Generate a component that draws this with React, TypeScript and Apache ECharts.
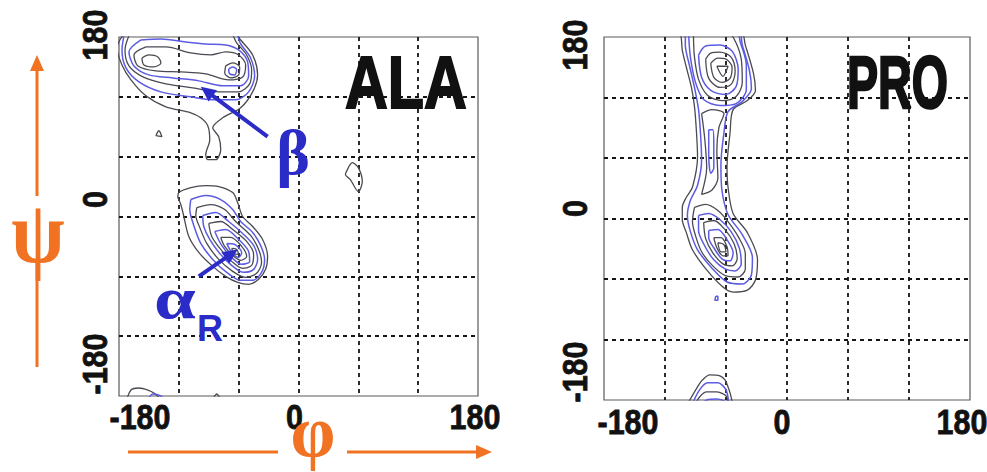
import React, { useEffect, useRef } from "react";
import * as echarts from "echarts";

type Pt = [number, number];

// ---------- tick labels ----------
const TICK_VALUES = [-180, 0, 180];
const TICK_TEXT = ["-180", "0", "180"];
const PANEL_TITLES = ["ALA", "PRO"];
const AXIS_SYMBOLS = ["\u03C8", "\u03C6"]; // psi, phi
const REGION_LABELS = ["\u03B2", "\u03B1", "R"];

// ---------- ALA contours (phi, psi in degrees) ----------
const alaBeta1: Pt[] = [[-173,186],[-182,169],[-177,152],[-168,137],[-153,121],[-133,110],[-108,104],[-98,99],[-91,91],[-89,77],[-93,62],[-91,57],[-83,57],[-78,67],[-80,80],[-86,89],[-76,99],[-58,109],[-46,125],[-41,142],[-46,162],[-58,177],[-66,186]];
const alaBeta2: Pt[] = [[-174,186],[-177,167],[-173,149],[-160,135],[-138,125],[-108,120],[-83,117],[-63,117],[-50,125],[-44,141],[-48,159],[-58,173],[-65,186]];
const alaBeta3: Pt[] = [[-168,186],[-174,167],[-170,151],[-156,140],[-133,133],[-106,129],[-80,125],[-60,125],[-49,133],[-47,147],[-52,162],[-62,174],[-70,186]];
const alaBeta4: Pt[] = [[-158,177],[-170,165],[-165,151],[-150,142],[-126,139],[-100,136],[-76,131],[-58,131],[-50,141],[-51,155],[-60,167],[-73,172],[-93,173],[-113,175],[-138,178]];
const alaBeta5: Pt[] = [[-153,170],[-165,162],[-161,151],[-143,146],[-118,145],[-93,143],[-70,137],[-56,140],[-53,152],[-60,162],[-73,165],[-88,162],[-108,164],[-133,170]];
const alaBeta6a: Pt[] = [[-157,159],[-155,152],[-145,150],[-138,154],[-141,160],[-150,162]];
const alaBeta6b: Pt[] = [[-73,151],[-74,144],[-68,139],[-60,142],[-59,150],[-66,154]];
const alaBeta7: Pt[] = [[-70,148],[-69,143],[-64,142],[-62,147],[-66,150]];
const alaSpeck: Pt[] = [[-143,81],[-140,86],[-137,80]];
const alaIsland: Pt[] = [[49,47],[54,54],[60,49],[64,35],[60,25],[52,37],[47,42]];
const alaEdge1: Pt[] = [[-173,-186],[-168,-174],[-160,-172],[-151,-174],[-145,-177],[-135,-186]];
const alaEdge2: Pt[] = [[-87,-186],[-82,-178],[-77,-186]];
const alaEdge3: Pt[] = [[-152,-186],[-146,-178],[-138,-180],[-132,-186]];

const alaAlpha1: Pt[] = [[-121,19],[-120,24],[-108,29],[-93,31],[-80,30],[-66,24],[-61,14],[-56,0],[-46,-10],[-36,-23],[-31,-40],[-33,-53],[-40,-63],[-50,-68],[-61,-66],[-73,-60],[-86,-50],[-100,-36],[-110,-20],[-115,0],[-118,12]];
const alaAlpha2: Pt[] = [[-108,17],[-93,21],[-78,17],[-66,7],[-58,-5],[-46,-16],[-38,-29],[-34,-43],[-37,-56],[-46,-64],[-58,-64],[-72,-56],[-86,-43],[-98,-27],[-105,-9],[-109,7]];
const alaAlpha3: Pt[] = [[-102,9],[-88,12],[-74,7],[-63,-5],[-48,-19],[-40,-33],[-37,-46],[-42,-57],[-53,-61],[-66,-55],[-80,-43],[-92,-27],[-99,-11],[-103,1]];
const alaAlpha4: Pt[] = [[-96,1],[-83,4],[-70,-5],[-56,-17],[-45,-29],[-41,-43],[-45,-53],[-55,-56],[-67,-49],[-79,-37],[-89,-23],[-95,-10]];
const alaAlpha5: Pt[] = [[-90,-7],[-78,-5],[-66,-13],[-52,-25],[-45,-38],[-47,-49],[-56,-52],[-67,-45],[-78,-33],[-87,-20]];
const alaAlpha6: Pt[] = [[-84,-15],[-73,-13],[-60,-23],[-50,-35],[-49,-45],[-57,-48],[-67,-41],[-77,-29]];
const alaAlpha7: Pt[] = [[-78,-21],[-68,-21],[-57,-30],[-52,-40],[-58,-44],[-66,-39],[-74,-30]];
const alaAlpha8: Pt[] = [[-72,-27],[-64,-28],[-57,-36],[-60,-41],[-67,-36]];
const alaAlpha9: Pt[] = [[-67,-32],[-62,-33],[-60,-38],[-65,-37]];

// ---------- PRO contours ----------
const proOuter1: Pt[] = [[-106,187],[-104,179],[-103,167],[-99,150],[-94,130],[-91,111],[-89,85],[-88,61],[-93,31],[-99,21],[-103,11],[-103,-1],[-99,-14],[-93,-31],[-79,-51],[-63,-68],[-53,-73],[-39,-71],[-31,-61],[-29,-41],[-39,-14],[-53,5],[-58,31],[-59,51],[-56,85],[-53,108],[-39,117],[-31,127],[-33,144],[-41,172],[-46,187]];
const proOuter2: Pt[] = [[-100,187],[-100,172],[-96,152],[-91,130],[-87,108],[-85,83],[-84,58],[-88,33],[-95,18],[-98,3],[-95,-13],[-88,-31],[-74,-49],[-59,-63],[-44,-65],[-35,-56],[-34,-39],[-44,-16],[-58,4],[-64,28],[-65,53],[-62,85],[-58,106],[-44,116],[-35,129],[-37,147],[-44,172],[-48,187]];
const proBeta1: Pt[] = [[-97,187],[-95,160],[-90,135],[-82,118],[-66,112],[-50,114],[-40,128],[-40,152],[-46,175],[-50,187]];
const proBeta2: Pt[] = [[-92,181],[-91,160],[-87,138],[-78,122],[-64,117],[-50,121],[-44,135],[-45,158],[-52,178],[-60,186],[-85,186]];
const proBeta3: Pt[] = [[-87,162],[-84,140],[-75,127],[-60,123],[-50,131],[-48,148],[-54,166],[-66,172],[-80,171]];
const proBeta4: Pt[] = [[-80,158],[-77,139],[-66,130],[-55,133],[-51,146],[-55,160],[-66,165],[-75,164]];
const proBeta5: Pt[] = [[-75,154],[-72,140],[-64,135],[-56,139],[-54,150],[-60,158],[-68,159]];
const proBeta6: Pt[] = [[-69,151],[-58,151],[-63,141]];
const proBridge1: Pt[] = [[-84,104],[-81,80],[-79,50],[-84,24],[-74,28],[-68,40],[-69,68],[-67,90],[-62,104],[-74,108]];
const proBridge2: Pt[] = [[-77,88],[-77,63],[-75,45],[-72,50],[-72,73],[-73,88]];
const proAlpha1: Pt[] = [[-91,11],[-80,14],[-68,8],[-58,-3],[-48,-18],[-41,-35],[-41,-50],[-48,-58],[-60,-57],[-73,-47],[-84,-33],[-90,-17],[-93,-3]];
const proAlpha2: Pt[] = [[-87,3],[-77,5],[-66,-1],[-55,-13],[-47,-29],[-45,-45],[-51,-52],[-61,-50],[-72,-41],[-81,-27],[-87,-12]];
const proAlpha3: Pt[] = [[-82,-4],[-72,-2],[-61,-11],[-52,-25],[-49,-40],[-54,-47],[-63,-45],[-73,-34],[-80,-20]];
const proAlpha4: Pt[] = [[-77,-12],[-68,-11],[-59,-21],[-53,-34],[-56,-42],[-64,-40],[-72,-29],[-77,-19]];
const proAlpha5: Pt[] = [[-72,-19],[-65,-19],[-59,-28],[-58,-37],[-63,-37],[-69,-29]];
const proAlpha6: Pt[] = [[-68,-24],[-62,-26],[-60,-33],[-65,-33]];
const proSpeck: Pt[] = [[-70,-77],[-68,-77],[-68,-81],[-71,-81]];
const proEdge1: Pt[] = [[-99,-186],[-88,-167],[-83,-160],[-76,-155],[-66,-156],[-61,-160],[-58,-167],[-56,-173],[-53,-186]];
const proEdge2: Pt[] = [[-94,-186],[-86,-170],[-78,-163],[-68,-163],[-60,-170],[-57,-186]];
const proEdge3: Pt[] = [[-91,-186],[-86,-177],[-79,-172],[-69,-172],[-59,-177],[-58,-186]];
const proEdge4: Pt[] = [[-86,-186],[-79,-180],[-69,-179],[-60,-182],[-59,-186]];

// annotation anchors (data coords on ALA panel)
const BETA_ARROW: Pt[] = [[-31, 80], [-98, 130]];
const ALPHA_ARROW: Pt[] = [[-100, -60], [-61, -33]];

const ALA_GRAY = [alaBeta1, alaBeta3, alaBeta5, alaBeta6a, alaBeta6b, alaSpeck, alaIsland, alaEdge1, alaEdge2,
  alaAlpha1, alaAlpha3, alaAlpha5, alaAlpha7, alaAlpha9];
const ALA_BLUE = [alaBeta2, alaBeta4, alaBeta7, alaEdge3, alaAlpha2, alaAlpha4, alaAlpha6, alaAlpha8];
const PRO_GRAY = [proOuter1, proBeta2, proBeta4, proBeta5, proBeta6, proBridge1, proAlpha1, proAlpha3, proAlpha5, proAlpha6, proEdge1, proEdge3];
const PRO_BLUE = [proOuter2, proBeta1, proBeta3, proBridge2, proAlpha2, proAlpha4, proSpeck, proEdge2, proEdge4];

// ---------- styling / layout ----------
const GRAY = "#4a4a52";
const BLUE = "#5c5ce2";
const LABEL_BLUE = "#2b2bc8";
const ORANGE = "#f07222";
const SANS = "'Liberation Sans', Arial, sans-serif";
const SERIF = "'Liberation Serif', 'DejaVu Serif', serif";

const GRIDS = [
  { left: 119, top: 37, width: 359, height: 359 },
  { left: 604, top: 37, width: 366, height: 363 },
];
// tick label placement: offsets (px) from the tick position, per tick value order
const X_LABEL_DY = [21, 22];
const X_LABEL_DX = [[21, -4, -3], [24, -5, -8]];
const Y_LABEL_DX = [-24, -29];
const Y_LABEL_DY = [[-32, -17, -2], [-28, -10, 8]];

function closed(p: Pt[]): Pt[] { return [...p, p[0]]; }

function contourSeries(list: Pt[][], g: number, color: string, width: number) {
  return list.map((pts) => ({
    type: "line",
    xAxisIndex: g,
    yAxisIndex: g,
    data: closed(pts),
    symbol: "none",
    showSymbol: false,
    smooth: 0.3,
    clip: true,
    silent: true,
    lineStyle: { color, width },
    z: 3,
  }));
}

function makeAxis(g: number) {
  return {
    type: "value",
    gridIndex: g,
    min: -180,
    max: 180,
    interval: 60,
    axisLine: { show: false },
    axisTick: { show: false },
    axisLabel: { show: false },
    splitLine: {
      show: true,
      showMinLine: false,
      showMaxLine: false,
      lineStyle: { color: "#151515", width: 1.8, type: [4, 4] },
    },
  };
}

function arrowEls(p0: number[], p1: number[], color: string, lw: number, headL: number, headW: number) {
  const dx = p1[0] - p0[0], dy = p1[1] - p0[1];
  const L = Math.hypot(dx, dy);
  const ux = dx / L, uy = dy / L;
  const bx = p1[0] - ux * headL, by = p1[1] - uy * headL;
  const nx = -uy, ny = ux;
  return [
    { type: "line", shape: { x1: p0[0], y1: p0[1], x2: bx + ux * 2, y2: by + uy * 2 }, style: { stroke: color, lineWidth: lw }, z: 100 },
    { type: "polygon", shape: { points: [[p1[0], p1[1]], [bx + nx * headW, by + ny * headW], [bx - nx * headW, by - ny * headW]] }, style: { fill: color }, z: 100 },
  ];
}

function textEl(text: string, x: number, y: number, fontSize: number, fontFamily: string, fill: string,
  scaleX = 1, align = "center", rotation = 0, strokeW = 0) {
  return {
    type: "text",
    x, y, scaleX, rotation,
    z: 100,
    style: {
      text, fontSize, fontFamily, fontWeight: "bold", fill,
      stroke: strokeW > 0 ? fill : undefined,
      lineWidth: strokeW,
      align, verticalAlign: "middle", textAlign: align, textVerticalAlign: "middle",
    },
  };
}

export default function App() {
  const ref = useRef<HTMLDivElement>(null);
  useEffect(() => {
    if (!ref.current) return;
    const chart = echarts.init(ref.current, undefined, { renderer: "svg" });
    const option: any = {
      animation: false,
      backgroundColor: "#ffffff",
      grid: GRIDS.map((g) => ({ ...g, show: true, borderColor: "#5a5a5a", borderWidth: 1.2, backgroundColor: "#fff" })),
      xAxis: [makeAxis(0), makeAxis(1)],
      yAxis: [makeAxis(0), makeAxis(1)],
      series: [
        ...contourSeries(ALA_GRAY, 0, GRAY, 1.3),
        ...contourSeries(ALA_BLUE, 0, BLUE, 1.5),
        ...contourSeries(PRO_GRAY, 1, GRAY, 1.3),
        ...contourSeries(PRO_BLUE, 1, BLUE, 1.5),
      ],
    };
    chart.setOption(option);

    const px = (g: number, p: Pt) => chart.convertToPixel({ gridIndex: g }, p) as number[];
    const tickLabels: any[] = [];
    [0, 1].forEach((g) => {
      TICK_VALUES.forEach((v, i) => {
        const bx = px(g, [v, -180]);
        tickLabels.push(textEl(TICK_TEXT[i], bx[0] + X_LABEL_DX[g][i], bx[1] + X_LABEL_DY[g], 35, SANS, "#111", 0.87, "center", 0, 0.8));
        const by = px(g, [-180, v]);
        tickLabels.push(textEl(TICK_TEXT[i], by[0] + Y_LABEL_DX[g], by[1] + Y_LABEL_DY[g][i], 35, SANS, "#111", 0.87, "center", Math.PI / 2, 0.8));
      });
    });

    const graphic: any[] = [
      ...tickLabels,
      ...arrowEls(px(0, BETA_ARROW[0]), px(0, BETA_ARROW[1]), LABEL_BLUE, 4, 15, 7),
      ...arrowEls(px(0, ALPHA_ARROW[0]), px(0, ALPHA_ARROW[1]), LABEL_BLUE, 4, 15, 7),
      textEl(REGION_LABELS[0], 293, 152, 64, SERIF, LABEL_BLUE),
      textEl(REGION_LABELS[1], 175, 298, 60, SERIF, LABEL_BLUE, 1.25),
      textEl(REGION_LABELS[2], 210, 328, 36, SANS, LABEL_BLUE),
      textEl(PANEL_TITLES[0], 345, 82, 74, SANS, "#111", 0.8, "left", 0, 2),
      textEl(PANEL_TITLES[1], 847, 82, 74, SANS, "#111", 0.63, "left", 0, 2.5),
      // psi axis arrow
      { type: "line", shape: { x1: 37, y1: 367, x2: 37, y2: 262 }, style: { stroke: ORANGE, lineWidth: 3 }, z: 100 },
      ...arrowEls([37, 196], [37, 55], ORANGE, 3, 16, 7),
      textEl(AXIS_SYMBOLS[0], 38, 232, 88, SERIF, ORANGE, 0.88),
      // phi axis arrow
      { type: "line", shape: { x1: 128, y1: 452, x2: 278, y2: 452 }, style: { stroke: ORANGE, lineWidth: 3 }, z: 100 },
      ...arrowEls([347, 452], [492, 452], ORANGE, 3, 16, 7),
      textEl(AXIS_SYMBOLS[1], 313, 432, 72, SERIF, ORANGE),
    ];
    chart.setOption({ graphic });
    return () => chart.dispose();
  }, []);
  return (
    <div style={{ position: "fixed", left: 0, top: 0, width: 987, height: 472, background: "#fff" }}>
      <div ref={ref} style={{ width: 987, height: 472 }} />
    </div>
  );
}
